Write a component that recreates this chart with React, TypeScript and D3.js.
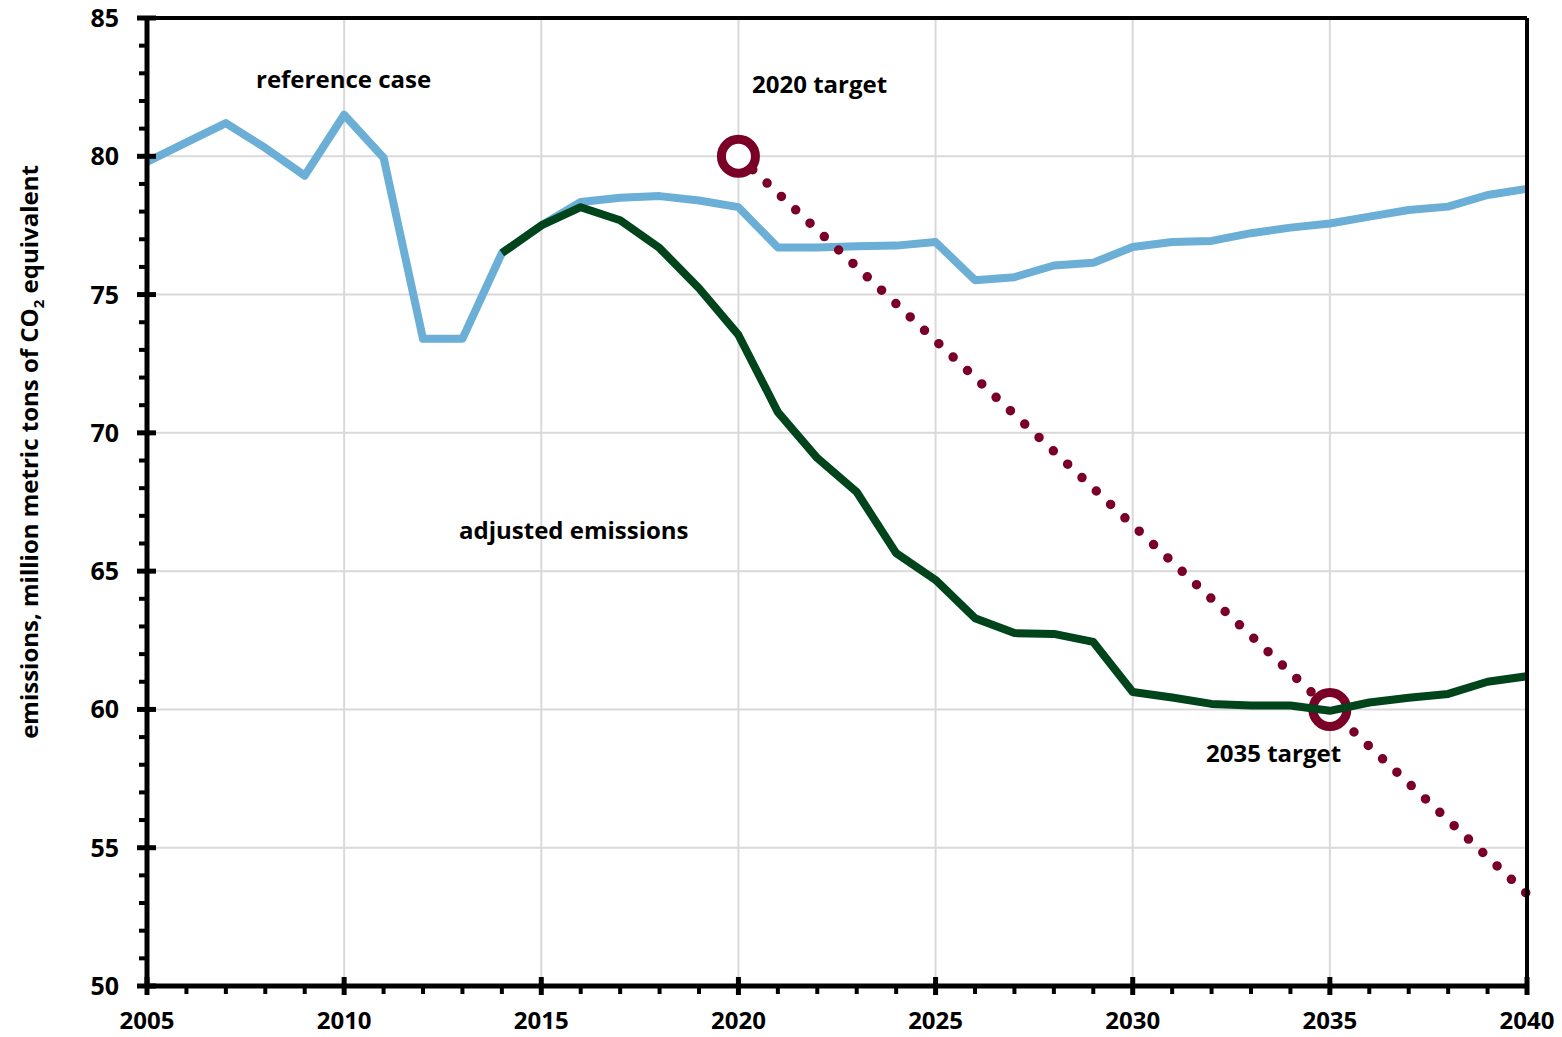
import React from "react";
import * as d3 from "d3";

const years = d3.range(2005, 2041);
const referenceCase = [
  79.8, 80.5, 81.2, 80.3, 79.3, 81.5, 79.95, 73.4, 73.4, 76.5,
  77.5, 78.35, 78.5, 78.56, 78.4, 78.16, 76.7, 76.7, 76.75, 76.77,
  76.9, 75.52, 75.63, 76.05, 76.15, 76.72, 76.9, 76.94, 77.22, 77.42,
  77.57, 77.82, 78.06, 78.18, 78.6, 78.82,
];
const adjustedYears = d3.range(2014, 2041);
const adjustedEmissions = [
  76.5, 77.5, 78.16, 77.69, 76.68, 75.23, 73.54, 70.75, 69.09, 67.86,
  65.65, 64.68, 63.3, 62.76, 62.73, 62.44, 60.63, 60.43, 60.2, 60.14,
  60.14, 59.95, 60.25, 60.42, 60.56, 61.0, 61.2,
];
const targetYears = [2020, 2035, 2040];
const targetValues = [80, 60, 53.33];
const targetMarkers = [
  { year: 2020, value: 80 },
  { year: 2035, value: 60 },
];
const xTicks = [2005, 2010, 2015, 2020, 2025, 2030, 2035, 2040];
const yTicks = [50, 55, 60, 65, 70, 75, 80, 85];

const W = 1562;
const H = 1037;
const m = { left: 147, right: 1527, top: 18, bottom: 986 };
const FONT = "'Open Sans', 'Noto Sans', sans-serif";

export default function App() {
  const x = d3.scaleLinear().domain([2005, 2040]).range([m.left, m.right]);
  const y = d3.scaleLinear().domain([50, 85]).range([m.bottom, m.top]);

  const line = d3
    .line<[number, number]>()
    .x((d) => x(d[0]))
    .y((d) => y(d[1]));

  const refPath = line(years.map((yr, i) => [yr, referenceCase[i]]) as [number, number][]);
  const adjPath = line(adjustedYears.map((yr, i) => [yr, adjustedEmissions[i]]) as [number, number][]);
  const tgtPath = line(targetYears.map((yr, i) => [yr, targetValues[i]]) as [number, number][]);

  const minorX = d3.range(2005, 2041).filter((v) => v % 5 !== 0);
  const minorY = d3.range(50, 86).filter((v) => v % 5 !== 0);

  return (
    <svg
      width={W}
      height={H}
      style={{ position: "absolute", left: 0, top: 0, background: "#fff" }}
      fontFamily={FONT}
    >
      <rect x={0} y={0} width={W} height={H} fill="#fff" />
      {/* gridlines */}
      {xTicks.slice(1, -1).map((t) => (
        <line key={"gx" + t} x1={x(t)} x2={x(t)} y1={m.top} y2={m.bottom} stroke="#d9d9d9" strokeWidth={2} />
      ))}
      {yTicks.slice(1, -1).map((t) => (
        <line key={"gy" + t} x1={m.left} x2={m.right} y1={y(t)} y2={y(t)} stroke="#d9d9d9" strokeWidth={2} />
      ))}

      {/* series */}
      <path d={refPath!} fill="none" stroke="#6baed6" strokeWidth={8} strokeLinejoin="round" />
      <path
        d={tgtPath!}
        fill="none"
        stroke="#7a0028"
        strokeWidth={9.5}
        strokeLinecap="round"
        strokeDasharray="0 19.6"
      />
      {targetMarkers.map((d) => (
        <circle key={d.year} cx={x(d.year)} cy={y(d.value)} r={17} fill="#fff" stroke="#7a0028" strokeWidth={9} />
      ))}
      <path d={adjPath!} fill="none" stroke="#00441b" strokeWidth={8} strokeLinejoin="round" />

      {/* frame */}
      <line x1={m.left} x2={m.right} y1={m.top} y2={m.top} stroke="#000" strokeWidth={4} />
      <line x1={m.right} x2={m.right} y1={m.top} y2={m.bottom} stroke="#000" strokeWidth={4} />

      {/* axes */}
      <line x1={m.left} x2={m.left} y1={m.top - 2} y2={m.bottom + 2} stroke="#000" strokeWidth={5} />
      <line x1={m.left - 2} x2={m.right + 2} y1={m.bottom} y2={m.bottom} stroke="#000" strokeWidth={5} />

      {minorX.map((t) => (
        <line key={"mx" + t} x1={x(t)} x2={x(t)} y1={m.bottom} y2={m.bottom + 8} stroke="#000" strokeWidth={4} />
      ))}
      {xTicks.map((t) => (
        <line key={"tx" + t} x1={x(t)} x2={x(t)} y1={m.bottom - 9} y2={m.bottom + 9} stroke="#000" strokeWidth={5} />
      ))}
      {minorY.map((t) => (
        <line key={"my" + t} x1={m.left - 8} x2={m.left} y1={y(t)} y2={y(t)} stroke="#000" strokeWidth={4} />
      ))}
      {yTicks.map((t) => (
        <line key={"ty" + t} x1={m.left - 10} x2={m.left + 9} y1={y(t)} y2={y(t)} stroke="#000" strokeWidth={5} />
      ))}

      {/* tick labels */}
      {xTicks.map((t) => (
        <text key={"lx" + t} x={x(t)} y={1029} textAnchor="middle" fontSize={24} fontWeight="bold" fill="#000">
          {t}
        </text>
      ))}
      {yTicks.map((t) => (
        <text key={"ly" + t} x={119} y={y(t) + 9} textAnchor="end" fontSize={25} fontWeight="bold" fill="#000">
          {t}
        </text>
      ))}

      {/* axis title */}
      <text
        transform={`translate(38, ${452}) rotate(-90)`}
        textAnchor="middle"
        fontSize={24}
        fontWeight="bold"
        fill="#000"
      >
        emissions, million metric tons of CO
        <tspan fontSize={15} dy={6}>2</tspan>
        <tspan dy={-6}> equivalent</tspan>
      </text>

      {/* annotations */}
      <text x={256} y={88} fontSize={24} fontWeight="bold" fill="#000">reference case</text>
      <text x={752} y={93} fontSize={24} fontWeight="bold" fill="#000">2020 target</text>
      <text x={459} y={539} fontSize={24} fontWeight="bold" fill="#000">adjusted emissions</text>
      <text x={1206} y={762} fontSize={24} fontWeight="bold" fill="#000">2035 target</text>
    </svg>
  );
}
